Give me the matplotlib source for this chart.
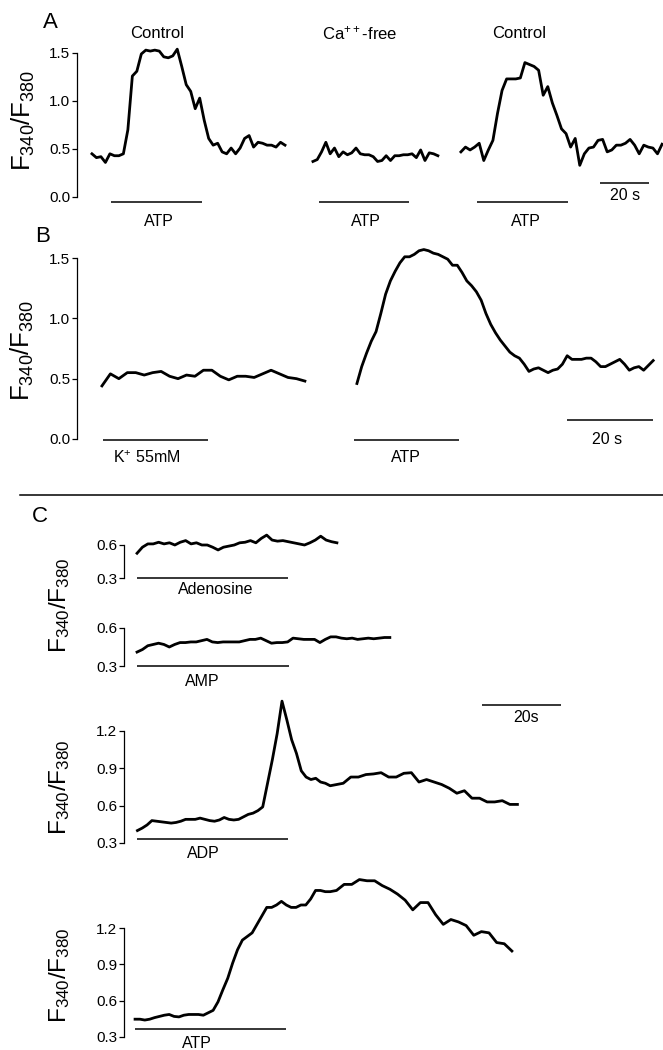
import numpy as np
import matplotlib
matplotlib.use('Agg')
from matplotlib import pyplot as plt
from matplotlib.lines import Line2D

plt.rcParams['font.family'] = ['Liberation Sans', 'DejaVu Sans']
plt.rcParams['mathtext.fontset'] = 'custom'
plt.rcParams['mathtext.rm'] = 'Liberation Sans'

W, H = 663, 1050          # output size [px]
YLAB = r'$\mathregular{F_{340}/F_{380}}$'

# ---------------- data : F340/F380 ratio traces ----------------
# Panel A (time in s, 20 s scale bar)
a_ctrl1 = [0.45, 0.41, 0.42, 0.36, 0.45, 0.43, 0.43, 0.45, 0.70, 1.26, 1.31, 1.49, 1.53, 1.52, 1.53,
           1.52, 1.46, 1.45, 1.47, 1.54, 1.36, 1.17, 1.10, 0.92, 1.03, 0.80, 0.61, 0.54, 0.56, 0.47,
           0.45, 0.51, 0.45, 0.51, 0.61, 0.64, 0.52, 0.57, 0.56, 0.54, 0.54, 0.52, 0.57, 0.54]
a_cafree = [0.37, 0.39, 0.47, 0.57, 0.45, 0.51, 0.42, 0.47, 0.44, 0.46, 0.51, 0.45, 0.44, 0.44, 0.42,
            0.37, 0.38, 0.43, 0.38, 0.43, 0.43, 0.44, 0.44, 0.45, 0.41, 0.49, 0.38, 0.46, 0.45, 0.43]
a_ctrl2 = [0.47, 0.52, 0.49, 0.52, 0.56, 0.38, 0.49, 0.59, 0.87, 1.11, 1.23, 1.23, 1.23, 1.24, 1.40,
           1.38, 1.36, 1.32, 1.06, 1.15, 0.98, 0.85, 0.71, 0.66, 0.52, 0.61, 0.33, 0.45, 0.51, 0.52,
           0.59, 0.60, 0.47, 0.49, 0.54, 0.54, 0.56, 0.60, 0.54, 0.45, 0.54, 0.52, 0.51, 0.45, 0.55]
a_span = [(6.1, 84.9), (96.3, 147.3), (156.7, 238.8)]      # recording start/end [s]
a_stim = [(13.9, 51.0), (98.8, 135.5), (163.3, 200.4)]     # ATP application [s]
a_titles = ['Control', r'$\mathregular{Ca^{++}}$-free', 'Control']

# Panel B
b_kcl = [0.44, 0.54, 0.50, 0.55, 0.55, 0.53, 0.55, 0.56, 0.52, 0.50, 0.53, 0.52, 0.57, 0.57, 0.52,
         0.49, 0.52, 0.52, 0.51, 0.54, 0.57, 0.54, 0.51, 0.50, 0.48]
b_atp = [0.46, 0.60, 0.71, 0.81, 0.89, 1.04, 1.20, 1.31, 1.39, 1.46, 1.51, 1.51, 1.53, 1.56, 1.57,
         1.56, 1.54, 1.53, 1.51, 1.49, 1.44, 1.44, 1.38, 1.31, 1.27, 1.22, 1.15, 1.04, 0.95, 0.88,
         0.82, 0.77, 0.72, 0.69, 0.67, 0.62, 0.56, 0.58, 0.59, 0.57, 0.55, 0.57, 0.58, 0.62, 0.69,
         0.66, 0.66, 0.66, 0.67, 0.67, 0.64, 0.60, 0.60, 0.62, 0.64, 0.66, 0.62, 0.57, 0.59, 0.60,
         0.57, 0.61, 0.65]
b_span = [(5.8, 53.0), (65.1, 134.0)]
b_stim = [(6.0, 30.5), (64.4, 88.8)]
b_labels = [r'$\mathregular{K^{+}}$ 55mM', 'ATP']

# Panel C
c_ado = [0.525, 0.58, 0.61, 0.61, 0.625, 0.61, 0.62, 0.60, 0.625, 0.64, 0.61, 0.62, 0.60, 0.60, 0.58,
         0.555, 0.58, 0.59, 0.60, 0.62, 0.625, 0.64, 0.62, 0.66, 0.69, 0.645, 0.635, 0.64, 0.63, 0.62,
         0.61, 0.60, 0.62, 0.645, 0.68, 0.645, 0.63, 0.62]
c_amp = [0.41, 0.43, 0.46, 0.47, 0.48, 0.47, 0.45, 0.47, 0.485, 0.485, 0.49, 0.49, 0.50, 0.51, 0.49,
         0.485, 0.49, 0.49, 0.49, 0.49, 0.50, 0.51, 0.51, 0.52, 0.50, 0.48, 0.485, 0.485, 0.49, 0.52,
         0.515, 0.51, 0.51, 0.51, 0.485, 0.51, 0.53, 0.53, 0.52, 0.515, 0.52, 0.51, 0.515, 0.52, 0.515,
         0.52, 0.525, 0.525]
c_adp = [0.40, 0.42, 0.445, 0.48, 0.475, 0.47, 0.465, 0.46, 0.465, 0.475, 0.49, 0.49, 0.49, 0.50, 0.49,
         0.48, 0.475, 0.485, 0.505, 0.49, 0.485, 0.49, 0.51, 0.53, 0.54, 0.56, 0.59, 0.78, 0.97, 1.18,
         1.44, 1.29, 1.13, 1.02, 0.88, 0.83, 0.81, 0.82, 0.79, 0.78, 0.76,
         0.78, 0.83, 0.83, 0.85, 0.855, 0.865, 0.83, 0.83, 0.86, 0.865, 0.79, 0.81, 0.79, 0.77, 0.74,
         0.70, 0.72, 0.66, 0.66, 0.63, 0.63, 0.64, 0.61, 0.61]
c_atp = [0.447, 0.447, 0.44, 0.447, 0.46, 0.47, 0.48, 0.486, 0.47, 0.466, 0.48, 0.486, 0.486, 0.486,
         0.48, 0.50, 0.52, 0.59, 0.69, 0.785, 0.91, 1.02, 1.10, 1.13, 1.16, 1.23, 1.30, 1.37, 1.37,
         1.39, 1.42, 1.39, 1.37, 1.37, 1.39, 1.39, 1.44, 1.51, 1.51, 1.50, 1.50,
         1.51, 1.56, 1.56, 1.60, 1.59, 1.59, 1.55, 1.52, 1.48, 1.43, 1.35, 1.41, 1.41, 1.31, 1.23,
         1.27, 1.25, 1.22, 1.14, 1.17, 1.16, 1.08, 1.07, 1.01]
# sample times [s] (two sampling segments for ADP and ATP)
c_ado_t = np.linspace(3.3, 53.9, len(c_ado))
c_amp_t = np.linspace(3.3, 67.3, len(c_amp))
c_adp_t = np.concatenate([np.linspace(3.4, 52.2, 41), np.linspace(55.5, 99.6, 24)])
c_atp_t = np.concatenate([np.linspace(2.8, 52.2, 41), np.linspace(53.8, 98.2, 24)])
c_names = ['Adenosine', 'AMP', 'ADP', 'ATP']
c_stim = [(3.3, 41.5, 0.30), (3.3, 41.8, 0.30), (3.3, 41.5, 0.33), (2.8, 41.0, 0.365)]


# ---------------- helpers ----------------
def px_axes(fig, x0, x1, y_lo, y_hi):
    """ Axes placed from pixel coordinates (y_lo = row of ymin, y_hi = row of ymax). """
    return fig.add_axes([x0 / W, 1 - y_lo / H, (x1 - x0) / W, (y_lo - y_hi) / H])


def style(ax, ylim, ticks, xmax):
    ax.set_xlim(0, xmax)
    ax.set_ylim(*ylim)
    for s in ['top', 'right', 'bottom']:
        ax.spines[s].set_visible(False)
    ax.spines['left'].set_linewidth(0.9)
    ax.set_xticks([])
    ax.set_yticks(ticks)
    ax.set_yticklabels(['%.1f' % t for t in ticks])
    ax.tick_params(axis='y', direction='out', length=3.5, width=0.9, labelsize=11, pad=1.5)
    ax.patch.set_visible(False)


def trace(ax, t, v):
    ax.plot(t, v, color='k', lw=2.0, clip_on=False, solid_joinstyle='round')


def bar(ax, t0, t1, y, lw=1.1):
    ax.plot([t0, t1], [y, y], color='k', lw=lw, clip_on=False, solid_capstyle='butt')


def ftext(x, y, s, size=11.5, **kw):
    fig.text(x / W, 1 - y / H, s, ha='center', va='center', fontsize=size, **kw)


fig = plt.figure(figsize=(W / 100, H / 100), dpi=100)

# ---------------- panel A ----------------
axA = px_axes(fig, 77, 663, 197, 53)
style(axA, (0, 1.5), [0.0, 0.5, 1.0, 1.5], 586 / 2.45)
for vals, (t0, t1), (s0, s1) in zip([a_ctrl1, a_cafree, a_ctrl2], a_span, a_stim):
    trace(axA, np.linspace(t0, t1, len(vals)), vals)
    bar(axA, s0, s1, -0.05)
bar(axA, 213.5, 233.5, 0.145)
for x, s in zip([157, 360, 519], a_titles):
    ftext(x, 33, s, 12)
for x in [159, 366, 526]:
    ftext(x, 222, 'ATP', 11.5)
ftext(625, 196, '20 s', 11.5)
ftext(50, 22, 'A', 16)
ftext(23, 120, YLAB, 18.5, rotation=90)

# ---------------- panel B ----------------
axB = px_axes(fig, 77, 663, 439, 258)
style(axB, (0, 1.5), [0.0, 0.5, 1.0, 1.5], 586 / 4.3)
for vals, (t0, t1), (s0, s1) in zip([b_kcl, b_atp], b_span, b_stim):
    trace(axB, np.linspace(t0, t1, len(vals)), vals)
    bar(axB, s0, s1, -0.01)
bar(axB, 114.0, 134.0, 0.157)
ftext(147, 458, b_labels[0], 11.5)
ftext(406, 457, b_labels[1], 11.5)
ftext(607, 439, '20 s', 11.5)
ftext(43, 237, 'B', 16)
ftext(22, 350, YLAB, 18.5, rotation=90)

# separator
fig.add_artist(Line2D([20 / W, 1], [1 - 495 / H] * 2, color='k', lw=1.1))

# ---------------- panel C ----------------
xmaxC = 539 / 3.95
boxes = [(578, 545, (0.3, 0.6), [0.3, 0.6]),
         (666, 628, (0.3, 0.6), [0.3, 0.6]),
         (843, 731, (0.3, 1.2), [0.3, 0.6, 0.9, 1.2]),
         (1037, 928, (0.3, 1.2), [0.3, 0.6, 0.9, 1.2])]
c_vals = [c_ado, c_amp, c_adp, c_atp]
c_times = [c_ado_t, c_amp_t, c_adp_t, c_atp_t]
c_lab_pos = [(216, 590), (202, 681), (203, 853), (197, 1044)]
axC = []
for (ylo, yhi, ylim, ticks), vals, t, (s0, s1, sy), name, (lx, ly) in zip(
        boxes, c_vals, c_times, c_stim, c_names, c_lab_pos):
    ax = px_axes(fig, 124, 663, ylo, yhi)
    style(ax, ylim, ticks, xmaxC)
    trace(ax, t, vals)
    bar(ax, s0, s1, sy)
    ftext(lx, ly, name, 11.5)
    axC.append(ax)
bar(axC[2], 90.6, 110.6, 1.41)
ftext(526, 718, '20s', 11.5)
ftext(40, 517, 'C', 16)
ftext(60, 605, YLAB, 17.5, rotation=90)
ftext(60, 787, YLAB, 17.5, rotation=90)
ftext(60, 975, YLAB, 17.5, rotation=90)

fig.savefig('out.png', dpi=100)
